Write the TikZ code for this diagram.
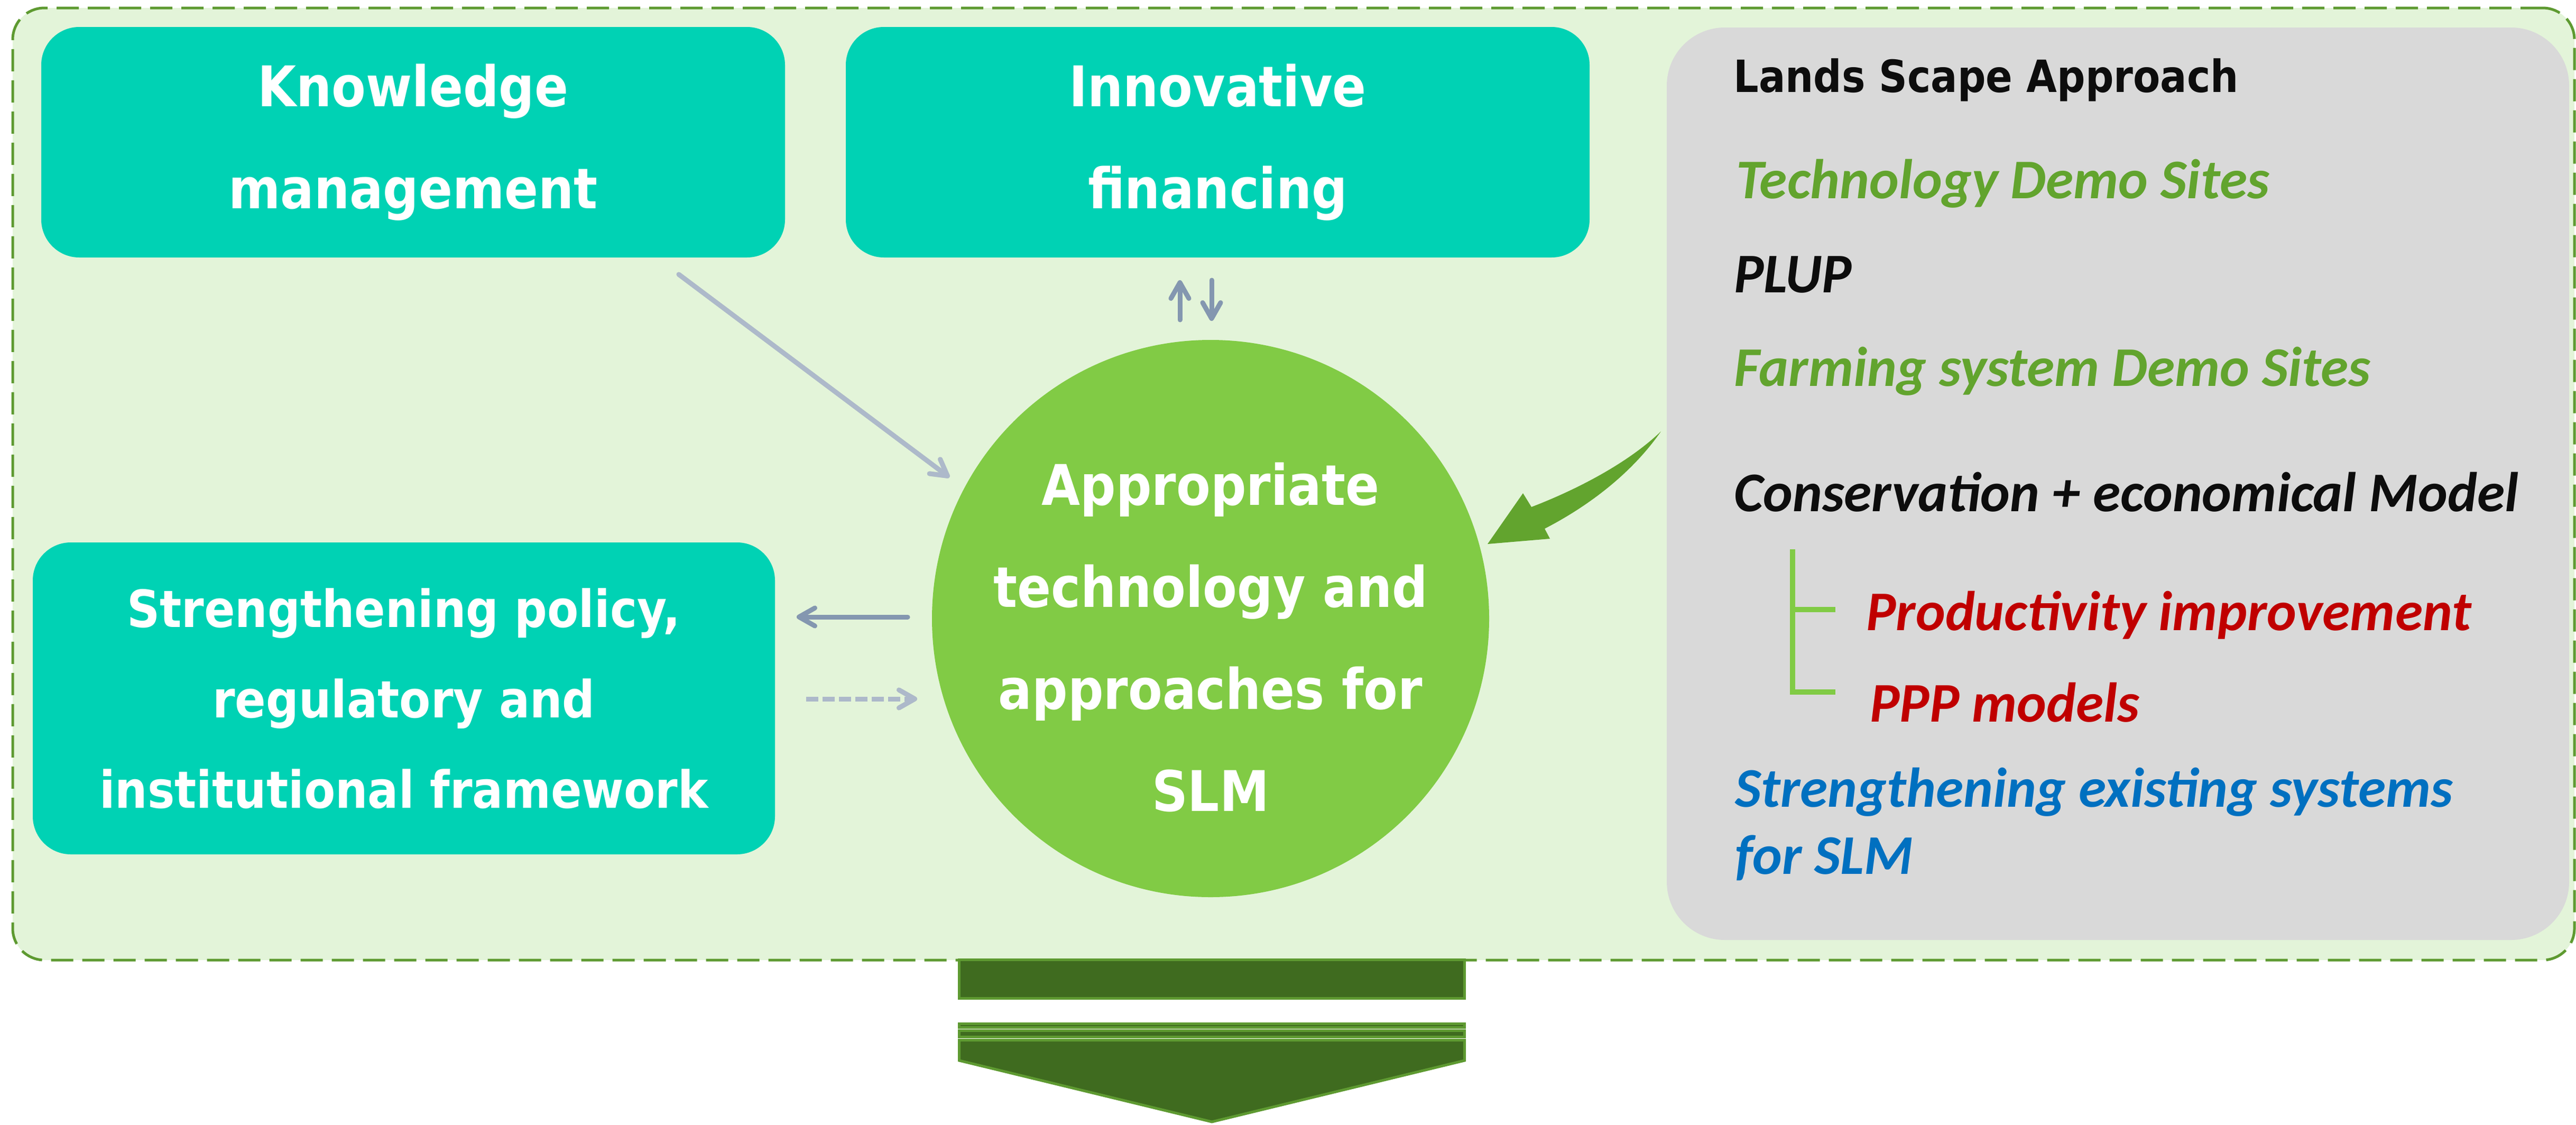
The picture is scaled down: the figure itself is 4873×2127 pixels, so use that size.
\documentclass[tikz,border=0pt]{standalone}
\usepackage{fontspec}
\usetikzlibrary{arrows.meta}
\newfontfamily\boxfont{DejaVu Sans}[FakeStretch=0.89]
\newfontfamily\calfont{Carlito}
\definecolor{bgfill}{HTML}{E3F4D9}
\definecolor{bordergreen}{HTML}{5E9A31}
\definecolor{tealbox}{HTML}{00D2B4}
\definecolor{circgreen}{HTML}{81CB45}
\definecolor{panelgray}{HTML}{D9D9D9}
\definecolor{arrdark}{HTML}{8497B0}
\definecolor{arrlight}{HTML}{ADB9CA}
\definecolor{txtgreen}{HTML}{62A42E}
\definecolor{txtred}{HTML}{C00000}
\definecolor{txtblue}{HTML}{0070C0}
\definecolor{txtblack}{HTML}{0D0D0D}
\definecolor{bardark}{HTML}{3F6B1F}
\definecolor{barlight}{HTML}{5E9A31}
\begin{document}
\begin{tikzpicture}[x=0.5pt,y=-0.5pt,
  frame/.style={rectangle, rounded corners=30pt, fill=bgfill, draw=bordergreen, line width=2.5pt, dash pattern=on 21pt off 8.5pt, inner sep=0pt},
  tbox/.style={rectangle, rounded corners=36pt, fill=tealbox, text=white, inner sep=0pt, align=center},
  bigtxt/.style={font=\boxfont\bfseries\fontsize{53}{96.5}\selectfont},
  midtxt/.style={font=\boxfont\bfseries\fontsize{48.5}{85.5}\selectfont},
  panel/.style={rectangle, rounded corners=55pt, fill=panelgray, inner sep=0pt},
  ltxt/.style={anchor=base west, inner sep=0pt, font=\calfont\bfseries\itshape\fontsize{53}{60}\selectfont},
  darrow/.style={line width=4.5pt, arrdark, line cap=round, -{Straight Barb[length=15pt,width=17pt,round]}},
  larrow/.style={line width=4.5pt, arrlight, line cap=round, -{Straight Barb[length=15pt,width=17pt,round]}},
  shadowarrow/.style={line width=4.5pt, black, opacity=0.12, line cap=round, -{Straight Barb[length=15pt,width=17pt,round]}, shift={(4,5)}},
  barstyle/.style={fill=bardark, draw=barlight, line width=2.5pt},
  bracket/.style={circgreen, line width=5pt}
]
\useasboundingbox (0,0) rectangle (4873,2127);
\fill[white] (0,0) rectangle (4873,2127);

% outer dashed frame
\node[frame, minimum width=2423pt, minimum height=900.5pt] (frame) at (2447,915.5) {};

% boxes
\node[tbox, bigtxt, minimum width=703.5pt, minimum height=218pt] (km) at (781.5,269) {Knowledge\\management};
\node[tbox, bigtxt, minimum width=703.5pt, minimum height=218pt] (fin) at (2303.5,269) {Innovative\\financing};
\node[tbox, midtxt, minimum width=702pt, minimum height=295pt] (pol) at (764,1321) {Strengthening policy,\\regulatory and\\institutional framework};

% circle
\node[circle, fill=circgreen, minimum size=527pt, inner sep=0pt] (slm) at (2290,1170) {};
\node[bigtxt, text=white, align=center, inner sep=0pt] (slmtxt) at (2290,1205) {Appropriate\\technology and\\approaches for\\SLM};

% right panel
\node[panel, minimum width=853.5pt, minimum height=863pt] (pan) at (4006.5,915) {};
\node[anchor=base west, inner sep=0pt, text=txtblack, font=\boxfont\bfseries\fontsize{42}{50}\selectfont] (lands) at (3279,174) {Lands Scape Approach};
\node[ltxt, text=txtgreen] (tds) at (3284,375) {Technology Demo Sites};
\node[ltxt, text=txtblack] (plup) at (3280,553) {PLUP};
\node[ltxt, text=txtgreen] (fds) at (3280,730) {Farming system Demo Sites};
\node[ltxt, text=txtblack] (cem) at (3280,967) {Conservation + economical Model};
\node[ltxt, text=txtred] (prod) at (3530,1192) {Productivity improvement};
\node[ltxt, text=txtred] (ppp) at (3537,1365) {PPP models};
\node[ltxt, text=txtblue] (ses) at (3282,1526) {Strengthening existing systems};
\node[ltxt, text=txtblue] (sfs) at (3282,1653) {for SLM};

% bracket
\coordinate (bt) at (3391,1039);
\coordinate (bc) at (3391,1309);
\coordinate (bm) at (3391,1153);
\coordinate (be1) at (3472,1153);
\coordinate (be2) at (3472,1309);
\draw[bracket] (bt) -- (bc) -- (be2);
\draw[bracket] (bm) -- (be1);

% gray-blue arrows
\coordinate (d1) at (1284,519);
\coordinate (d2) at (1796,903);
\coordinate (u1) at (2232,605);
\coordinate (u2) at (2232,530);
\coordinate (w1) at (2292,530);
\coordinate (w2) at (2292,607);
\coordinate (l1) at (1717,1167);
\coordinate (l2) at (1507,1167);
\coordinate (r1) at (1525,1322);
\coordinate (r2) at (1735,1322);
\draw[shadowarrow] (d1) -- (d2);
\draw[shadowarrow] (u1) -- (u2);
\draw[shadowarrow] (w1) -- (w2);
\draw[shadowarrow] (l1) -- (l2);
\draw[shadowarrow, line cap=butt, dash pattern=on 11.5pt off 4pt] (r1) -- (r2);
\draw[larrow] (d1) -- (d2);
\draw[darrow] (u1) -- (u2);
\draw[darrow] (w1) -- (w2);
\draw[darrow] (l1) -- (l2);
\draw[larrow, line cap=butt, dash pattern=on 11.5pt off 4pt] (r1) -- (r2);

% green curved arrow
\coordinate (ga) at (3142,816);
\coordinate (gt) at (2814,1029);
\fill[txtgreen] (ga) .. controls (3070,885) and (2960,935) .. (2897,959)
  -- (2881,933) -- (gt) -- (2932,1019) -- (2922,1000)
  .. controls (2990,965) and (3080,905) .. (ga) -- cycle;

% bottom bars
\node[rectangle, barstyle, minimum width=478pt, minimum height=36.5pt, inner sep=0pt] (bar1) at (2292.5,1852) {};
\draw[barstyle] (1814.5,1936.5) rectangle (2770.5,1943.5);
\draw[barstyle] (1814.5,1949.5) rectangle (2770.5,1961.5);
\draw[barstyle] (1814.5,1967.5) -- (2770.5,1967.5) -- (2770.5,2006) -- (2292.5,2122) -- (1814.5,2006) -- cycle;
\end{tikzpicture}
\end{document}
